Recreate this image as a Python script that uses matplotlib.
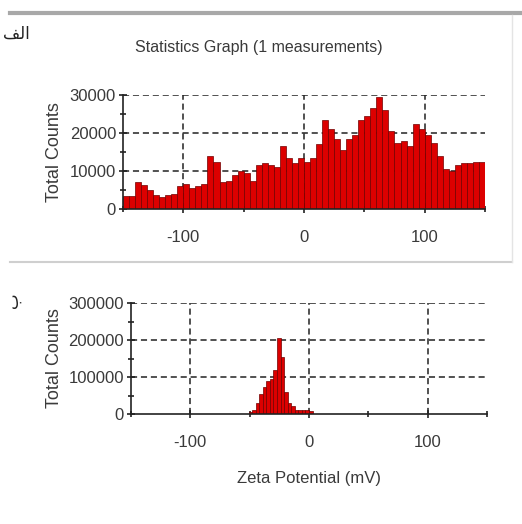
import numpy as np
import matplotlib.pyplot as plt
from matplotlib.ticker import FixedLocator

plt.rcParams['font.family'] = ['Liberation Sans', 'DejaVu Sans']
plt.rcParams['axes.unicode_minus'] = False

# top histogram: 5 mV bins from -150 to 150
top_edges = np.arange(-150, 151, 5)
top_counts = [3500, 3500, 7000, 6200, 5000, 3800, 3200, 3800, 4000, 6000,
              6500, 5500, 6000, 6500, 14000, 12500, 7000, 7500, 9000, 10000,
              9500, 7500, 11500, 12000, 11500, 11000, 16500, 13500, 12000, 13500,
              12500, 13500, 17000, 23500, 21000, 18500, 15500, 18500, 19500, 23500,
              24500, 26500, 29500, 26000, 20500, 17500, 18000, 16500, 22500, 21000,
              19500, 17500, 14000, 10500, 10000, 11500, 12000, 12000, 12500, 12500]

# bottom histogram: 3 mV bins from -51 to 3
bot_edges = np.arange(-51, 4, 3)
bot_counts = [5000, 12000, 30000, 55000, 72000, 88000, 95000, 120000, 205000,
              155000, 60000, 30000, 22000, 12000, 10000, 10000, 10000, 8000]

title = 'Statistics Graph (1 measurements)'
ylab = 'Total Counts'
xlab = 'Zeta Potential (mV)'

fig = plt.figure(figsize=(5.22, 5.24), dpi=100)

txt_col = '#3a3a3a'
red = '#dc0000'
dash = (0, (4, 2.5))


def style(ax, ymax, ystep, ylab_x):
    ax.set_xlim(-150, 150)
    ax.set_ylim(0, ymax)
    for s in ['top', 'right']:
        ax.spines[s].set_visible(False)
    for s in ['left', 'bottom']:
        ax.spines[s].set_color('#222222')
        ax.spines[s].set_linewidth(1.2)
    ax.xaxis.set_major_locator(FixedLocator([-100, 0, 100]))
    ax.xaxis.set_minor_locator(FixedLocator([-150, -50, 50, 150]))
    ax.yaxis.set_major_locator(FixedLocator(np.arange(0, ymax + 1, ystep)))
    ax.yaxis.set_minor_locator(FixedLocator(np.arange(ystep / 2, ymax, ystep)))
    ax.tick_params(which='both', direction='inout', color='#222222', width=1.2,
                   labelsize=12, labelcolor=txt_col)
    ax.tick_params(which='major', length=6)
    ax.tick_params(which='minor', length=4)
    ax.tick_params(axis='x', pad=12)
    ax.tick_params(axis='y', pad=2)
    ax.yaxis.set_major_formatter(plt.FuncFormatter(lambda v, p: '%d' % v))
    for yv in np.arange(ystep, ymax + 1, ystep):
        ax.axhline(yv, color='#222222', lw=1.1, ls=dash, zorder=1)
    for xv in [-100, 0, 100]:
        ax.axvline(xv, color='#222222', lw=1.1, ls=dash, zorder=1)
    ax.set_ylabel(ylab, fontsize=13, color=txt_col)
    ax.yaxis.set_label_coords(ylab_x, 0.5)


ax1 = fig.add_axes([0.2356, 0.6011, 0.6935, 0.2176])
ax1.bar(top_edges[:-1], top_counts, width=5, align='edge', color=red,
        edgecolor='#700000', linewidth=0.5, zorder=2)
style(ax1, 30000, 10000, -0.165)

ax2 = fig.add_axes([0.251, 0.2099, 0.682, 0.2118])
ax2.bar(bot_edges[:-1], bot_counts, width=3, align='edge', color=red,
        edgecolor='#700000', linewidth=0.5, zorder=2)
style(ax2, 300000, 100000, -0.19)
ax2.set_xlabel(xlab, fontsize=12, color=txt_col, labelpad=15)

fig.text(0.495, 0.910, title, ha='center', va='center', fontsize=11.5, color=txt_col)

# panel letters (alef-lam-feh in presentation forms, drawn left to right)
fig.text(0.005, 0.935, '\ufed2\ufedf\ufe8d', ha='left', va='center', fontsize=12,
         color='#222222', family=['DejaVu Sans'])
fig.text(0.024, 0.427, '\u0628', rotation=90, ha='center', va='center', fontsize=12,
         color='#222222', family=['DejaVu Sans'])

# separator lines
fig.add_artist(plt.Line2D([0.02, 1.0], [0.975, 0.975], color='#a8a8a8', lw=3))
fig.add_artist(plt.Line2D([0.02, 0.98], [0.5, 0.5], color='#cfcfcf', lw=1.5))
fig.add_artist(plt.Line2D([0.981, 0.981], [0.5, 0.972], color='#e4e4e4', lw=1))

fig.savefig('out.png', dpi=100)
